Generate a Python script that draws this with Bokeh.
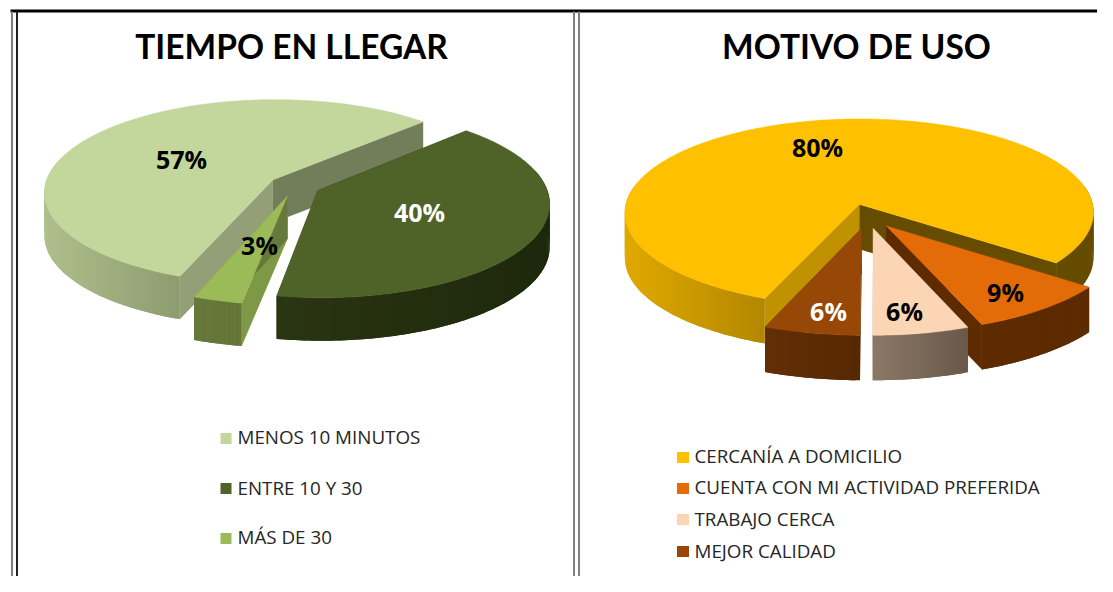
import math
import numpy as np
from bokeh.plotting import figure
from bokeh.embed import file_html
from bokeh.resources import INLINE
from bokeh.core.properties import value

title_left = "TIEMPO EN LLEGAR"
cats_left = ["MENOS 10 MINUTOS", "ENTRE 10 Y 30", "MÁS DE 30"]
vals_left = [57, 40, 3]
colors_left = ["#C3D69B", "#4F6228", "#9BBB59"]
label_colors_left = ["black", "white", "black"]

title_right = "MOTIVO DE USO"
cats_right = ["CERCANÍA A DOMICILIO", "CUENTA CON MI ACTIVIDAD PREFERIDA", "TRABAJO CERCA", "MEJOR CALIDAD"]
vals_right = [80, 9, 6, 6]
colors_right = ["#FFC000", "#E36C09", "#FCD5B5", "#974806"]
label_colors_right = ["black", "black", "black", "white"]

W, H = 1097, 576
p = figure(width=W, height=H, x_range=(0, W), y_range=(H, 0),
           output_backend="svg", toolbar_location=None, min_border=0,
           outline_line_color=None, background_fill_color="white")
p.axis.visible = False
p.grid.visible = False


def rgb(h):
    return np.array([int(h[i:i + 2], 16) for i in (1, 3, 5)], float)


def ramp(stops, x):
    xs = [s[0] for s in stops]
    cs = [rgb(s[1]) for s in stops]
    c = [np.interp(x, xs, [q[i] for q in cs]) for i in range(3)]
    return "#%02x%02x%02x" % tuple(int(round(t)) for t in c)


def pie(vals, colors, order, start, geo, walls, faces):
    cx, cy, rx, ry, k, e, depth = geo

    def proj(u, v):
        w = 1 - k * v
        return cx + rx * u / w, cy + ry * v / w

    total = sum(vals)
    a = start
    slices = []
    for i, val in enumerate(vals):
        sw = 360 * val / total
        slices.append((a, a + sw))
        a += sw
    for i in order:
        a0, a1 = slices[i]
        mid = math.radians((a0 + a1) / 2)
        ox, oy = e * math.sin(mid), -e * math.cos(mid)
        angs = np.radians(np.linspace(a0, a1, max(3, int(a1 - a0) + 2)))
        pts = [proj(ox + math.sin(t), oy - math.cos(t)) for t in angs]
        apex = proj(ox, oy)
        xs, ys, cs = [], [], []
        # flat inner faces
        for end, col in ((pts[0], faces[i][0]), (pts[-1], faces[i][1])):
            xs.append([apex[0], end[0], end[0], apex[0]])
            ys.append([apex[1], end[1], end[1] + depth, apex[1] + depth])
            cs.append(col)
        # outer wall, shaded across x; each strip overlaps the next to hide seams
        for j in range(len(pts) - 1):
            if -math.cos(angs[j]) < -0.2 and -math.cos(angs[j + 1]) < -0.2:
                continue
            (x0, y0), (x1, y1) = pts[j], pts[j + 1]
            (x2, y2) = pts[min(j + 2, len(pts) - 1)]
            xs.append([x0, x1, x2, x2, x1, x0])
            ys.append([y0, y1, y2, y2 + depth, y1 + depth, y0 + depth])
            cs.append(ramp(walls[i], (x0 + x1) / 2))
        p.patches(xs, ys, fill_color=cs, line_color=None)
        p.patch([apex[0]] + [q[0] for q in pts], [apex[1]] + [q[1] for q in pts],
                fill_color=colors[i], line_color=colors[i], line_width=0.5)


pie(vals_left, colors_left, [0, 1, 2], 200.5,
    (294, 185, 228, 92, 0.13, 0.114, 43),
    [[(44, "#AEBF8C"), (183, "#8D9B70")],
     [(279, "#2A3513"), (549, "#1E280C")],
     [(197, "#66783A"), (247, "#627436")]],
    [("#93A077", "#727E5A"), ("#222C0F", "#222C0F"), ("#7E9945", "#66783A")])

pie(vals_right, colors_right, [0, 1, 3, 2], 201.6,
    (867, 215.5, 236, 95, 0.09, 0.13, 45),
    [[(625, "#E0A900"), (768, "#B28600"), (900, "#7A5C00"), (1060, "#654C00")],
     [(880, "#5E2B00"), (1089, "#5E2B00")],
     [(872, "#8C7866"), (963, "#6A5A4C")],
     [(769, "#622E06"), (861, "#562803")]],
    [("#C09200", "#654C00"), ("#5E2B00", "#5E2B00"), ("#6A5A4C", "#8C7866"), ("#562803", "#622E06")])

# frame
p.segment([10], [10.5], [W], [10.5], line_color="black", line_width=3)
p.segment([11.5, 16.5, 573.5, 578.5], [11] * 4, [11.5, 16.5, 573.5, 578.5], [H] * 4,
          line_color=["#808080", "#222222", "#808080", "#808080"], line_width=2)

# titles
p.text([291, 856], [45, 45], text=[title_left, title_right], text_font=value("Lato"),
       text_font_style="bold", text_font_size="33.5px", text_color="black",
       text_align="center", text_baseline="middle")

# pie labels
lx = [181, 419, 259, 817, 1005, 904, 828]
ly = [158, 211, 244, 146, 291, 310, 310]
labels = [f"{v}%" for v in vals_left + vals_right]
p.text(lx, ly, text=labels, text_color=label_colors_left + label_colors_right,
       text_font=value("Open Sans"), text_font_style="bold", text_font_size="25px",
       text_align="center", text_baseline="middle")

# legends
p.rect([225.5] * 3, [438, 488, 538], width=11, height=11, fill_color=colors_left, line_color=None)
p.text([237] * 3, [436.5, 487, 536], text=cats_left, text_color="#262626", text_font=value("Open Sans"),
       text_font_size="18.8px", text_align="left", text_baseline="middle")
p.rect([682.5] * 4, [457, 488, 519, 551], width=12, height=11, fill_color=colors_right, line_color=None)
p.text([694] * 4, [455, 486, 518, 550], text=cats_right, text_color="#262626", text_font=value("Open Sans"),
       text_font_size="18.8px", text_align="left", text_baseline="middle")

open("out.html", "w").write(file_html(p, INLINE))
